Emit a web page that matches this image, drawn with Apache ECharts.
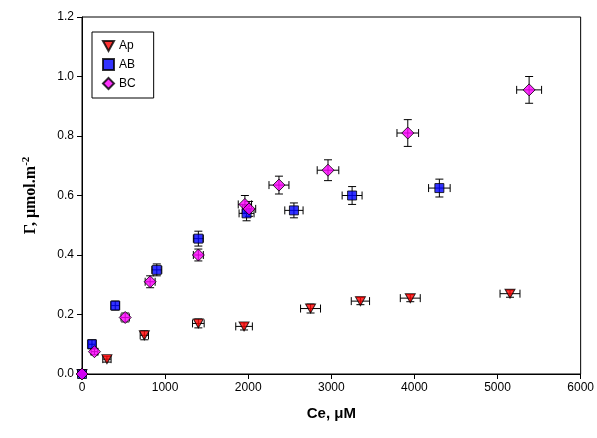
<!DOCTYPE html>
<html>
<head>
<meta charset="utf-8">
<script src="https://cdn.jsdelivr.net/npm/echarts@6/dist/echarts.min.js"></script>
<style>html,body{margin:0;padding:0;background:#fff}#main{width:597px;height:438px}</style>
</head>
<body>
<div id="main"></div>
<script>
// [Ce, Gamma, xErr, yErr]
var apData = [[0,0,30,0.005],[300,0.05,50,0.01],[750,0.13,50,0.015],[1400,0.17,70,0.015],[1950,0.16,100,0.012],
  [2750,0.22,120,0.015],[3350,0.245,110,0.012],[3950,0.255,120,0.012],[5150,0.27,120,0.012]];
var abData = [[0,0,30,0.005],[120,0.10,40,0.015],[400,0.23,50,0.015],[900,0.35,60,0.02],[1400,0.455,60,0.025],
  [1980,0.54,90,0.025],[2550,0.55,110,0.025],[3250,0.60,120,0.03],[4300,0.625,130,0.03]];
var bcData = [[0,0,30,0.005],[150,0.075,40,0.01],[520,0.19,50,0.015],[820,0.31,60,0.02],[1400,0.40,60,0.02],
  [1960,0.57,80,0.03],[2010,0.555,80,0.025],[2370,0.635,120,0.03],[2960,0.685,130,0.035],[3920,0.81,130,0.045],[5380,0.955,150,0.045]];

var downTri = 'path://M0,0L10,0L5,9Z';

function errSeries(data) {
  return {
    type: 'custom', silent: true, z: 1,
    renderItem: function (params, api) {
      var x = api.value(0), y = api.value(1), ex = api.value(2), ey = api.value(3);
      var l = api.coord([x - ex, y]), r = api.coord([x + ex, y]);
      var t = api.coord([x, y + ey]), b = api.coord([x, y - ey]);
      var c = 4, s = {stroke: '#000', lineWidth: 1};
      return {type: 'group', children: [
        {type: 'line', shape: {x1: l[0], y1: l[1], x2: r[0], y2: r[1]}, style: s},
        {type: 'line', shape: {x1: l[0], y1: l[1] - c, x2: l[0], y2: l[1] + c}, style: s},
        {type: 'line', shape: {x1: r[0], y1: r[1] - c, x2: r[0], y2: r[1] + c}, style: s},
        {type: 'line', shape: {x1: t[0], y1: t[1], x2: b[0], y2: b[1]}, style: s},
        {type: 'line', shape: {x1: t[0] - c, y1: t[1], x2: t[0] + c, y2: t[1]}, style: s},
        {type: 'line', shape: {x1: b[0] - c, y1: b[1], x2: b[0] + c, y2: b[1]}, style: s}
      ]};
    },
    data: data
  };
}
function pts(name, data, symbol, color, size) {
  return {name: name, type: 'scatter', z: 3, symbol: symbol, symbolSize: size,
    itemStyle: {color: color, borderColor: '#000', borderWidth: 1}, data: data.map(function (d) { return [d[0], d[1]]; })};
}
var chart = echarts.init(document.getElementById('main'));
chart.setOption({
  animation: false,
  grid: {left: 82, right: 15, top: 17, bottom: 64, show: true, borderColor: '#000', borderWidth: 1},
  legend: {
    orient: 'vertical', left: 92, top: 32, itemGap: 6, padding: [8, 18, 8, 10],
    borderColor: '#000', borderWidth: 1, itemWidth: 11, itemHeight: 11,
    textStyle: {fontFamily: 'Liberation Sans', fontSize: 12, color: '#000'},
    data: [{name: 'Ap', icon: downTri}, 'AB', 'BC']
  },
  xAxis: {
    type: 'value', min: 0, max: 6000, interval: 1000,
    name: 'Ce, μM', nameLocation: 'middle', nameGap: 32,
    nameTextStyle: {fontFamily: 'Liberation Sans', fontWeight: 'bold', fontSize: 15, color: '#000'},
    axisLine: {lineStyle: {color: '#000'}}, axisTick: {lineStyle: {color: '#000'}, length: 5},
    axisLabel: {fontFamily: 'Liberation Sans', fontSize: 12, color: '#000', formatter: function (v) { return String(v); }},
    splitLine: {show: false}
  },
  yAxis: {
    type: 'value', min: 0, max: 1.2, interval: 0.2,
    name: '{a|Γ, μmol.m}{b|-2}', nameLocation: 'middle', nameGap: 42,
    nameTextStyle: {rich: {
      a: {fontFamily: 'Liberation Serif', fontWeight: 'bold', fontSize: 16, color: '#000'},
      b: {fontFamily: 'Liberation Serif', fontWeight: 'bold', fontSize: 11, color: '#000', verticalAlign: 'top', padding: [0, 0, 8, 0]}
    }},
    axisLine: {show: true, lineStyle: {color: '#000'}}, axisTick: {show: true, lineStyle: {color: '#000'}, length: 5},
    axisLabel: {fontFamily: 'Liberation Sans', fontSize: 12, color: '#000', formatter: function (v) { return v.toFixed(1); }},
    splitLine: {show: false}
  },
  series: [
    errSeries(apData), errSeries(abData), errSeries(bcData),
    pts('Ap', apData, downTri, '#ff0000', [10, 9]),
    pts('AB', abData, 'rect', '#0000ff', 9),
    pts('BC', bcData, 'diamond', '#ff00ff', 12)
  ]
});
</script>
</body>
</html>
